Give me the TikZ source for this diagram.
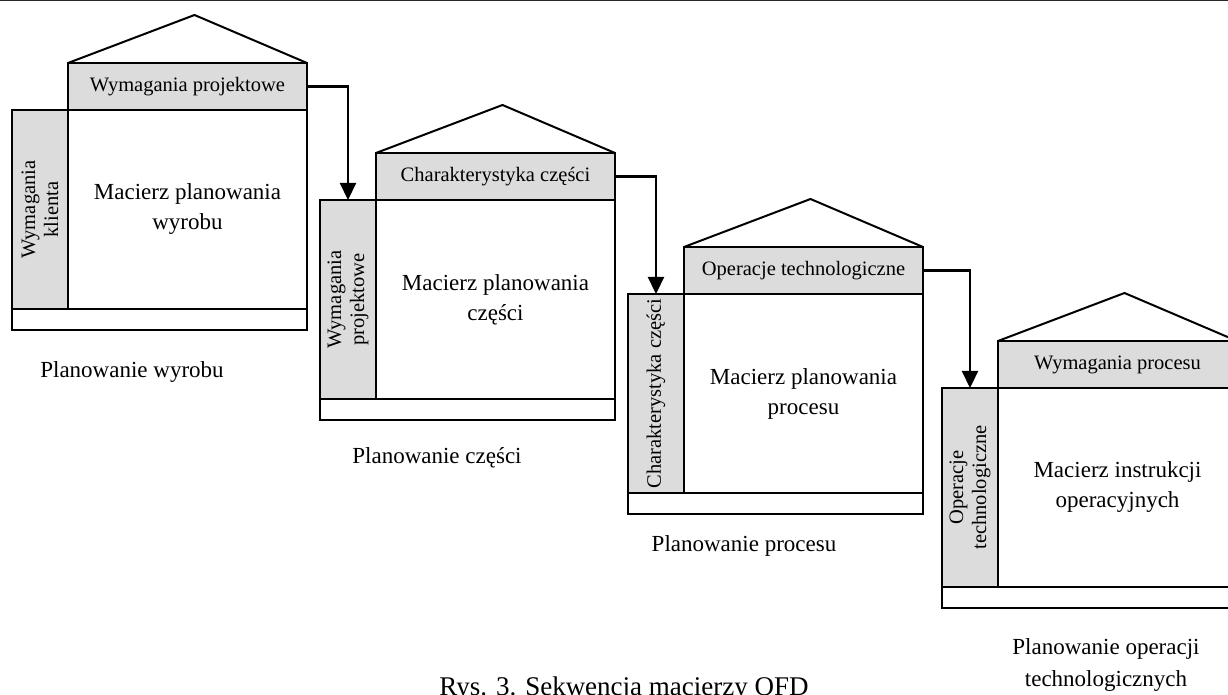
\documentclass[tikz,border=0pt]{standalone}
\usepackage{fontspec}
\setmainfont{Liberation Serif}
\usetikzlibrary{arrows.meta}

\definecolor{headgray}{RGB}{220,220,220}
\definecolor{rulegray}{RGB}{40,40,40}

% One QFD "house": side column, roof header, matrix body, base strip and roof.
% #1 name, #2 left edge (px), #3 top of matrix body (px),
% #4 header text, #5 side text, #6 matrix text
\newcommand{\qfdhouse}[6]{%
  \node[sidebox, anchor=north west] (#1-side) at (#2,#3) {};
  \node[matrixbox, anchor=north west] (#1-main) at (#2+56,#3) {#6};
  \node[headbox, anchor=south west] (#1-top) at (#1-main.north west) {#4};
  \node[stripbox, anchor=north west] (#1-base) at (#1-side.south west) {};
  \node[sidetext] (#1-sidelabel) at (#1-side.center) {#5};
  \coordinate (#1-apex) at ([xshift=3.5pt,yshift=24pt]#1-top.north);
  \draw[roof] (#1-top.north west) -- (#1-apex) -- (#1-top.north east);
}

\tikzset{
  box/.style={draw, line width=1pt, inner sep=0pt, outer sep=0pt},
  sidebox/.style={box, fill=headgray, minimum width=28pt, minimum height=99.5pt},
  matrixbox/.style={box, fill=white, minimum width=119.5pt, minimum height=99.5pt,
    align=center, font=\fontsize{11.5}{15}\selectfont},
  headbox/.style={box, fill=headgray, minimum width=119.5pt, minimum height=23.5pt,
    font=\fontsize{10.25}{12}\selectfont},
  stripbox/.style={box, fill=white, minimum width=147.5pt, minimum height=10.5pt},
  sidetext/.style={rotate=90, align=center, inner sep=0pt,
    font=\fontsize{10.25}{11.5}\selectfont},
  roof/.style={line width=1pt, line join=miter},
  flow/.style={line width=1.1pt, -{Triangle[width=8pt,length=8.5pt]}},
  stage/.style={align=center, inner sep=0pt, anchor=base,
    font=\fontsize{11.5}{16}\selectfont},
  caption/.style={inner sep=0pt, anchor=base, font=\fontsize{13.5}{16}\selectfont},
}

\begin{document}
\begin{tikzpicture}[x=0.5pt, y=-0.5pt]
  \useasboundingbox (0,0) rectangle (1228,695);
  \clip (0,0) rectangle (1228,695);

  % rule along the top edge
  \draw[rulegray, line width=0.75pt] (0,0.75) -- (1228,0.75);

  \qfdhouse{h1}{12}{110}{Wymagania projektowe}{Wymagania\\klienta}{Macierz planowania\\wyrobu}
  \qfdhouse{h2}{320}{200}{Charakterystyka części}{Wymagania\\projektowe}{Macierz planowania\\części}
  \qfdhouse{h3}{628}{294}{Operacje technologiczne}{Charakterystyka części}{Macierz planowania\\procesu}
  \qfdhouse{h4}{942}{388}{Wymagania procesu}{Operacje\\technologiczne}{Macierz instrukcji\\operacyjnych}

  % flow from each header into the next side column
  \draw[flow] (h1-top.east) -| (h2-side.north);
  \draw[flow] (h2-top.east) -| (h3-side.north);
  \draw[flow] (h3-top.east) -| (h4-side.north);

  % stage names (base anchor sits on the last line)
  \node[stage] (s1) at (132,378) {Planowanie wyrobu};
  \node[stage] (s2) at (437,464) {Planowanie części};
  \node[stage] (s3) at (744,552) {Planowanie procesu};
  \node[stage] (s4) at (1106,686) {Planowanie operacji\\technologicznych};

  % figure caption, running off the lower edge
  \node[caption] (cap) at (624,696) {Rys. 3. Sekwencja macierzy QFD};
\end{tikzpicture}
\end{document}
